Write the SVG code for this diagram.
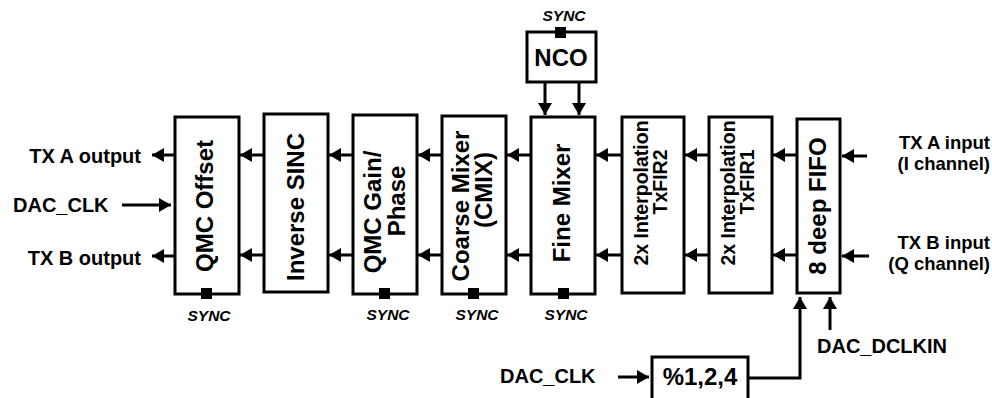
<svg xmlns="http://www.w3.org/2000/svg" width="992" height="398" viewBox="0 0 992 398">
<defs>
<marker id="ah" markerUnits="userSpaceOnUse" markerWidth="13" markerHeight="15" refX="12" refY="7" orient="auto">
<path d="M0,0 L12,7 L0,14 z" fill="#000"/>
</marker>
<style>
.box{fill:#fff;stroke:#000;stroke-width:3}
.sq{fill:#000}
.lbl{font-family:"Liberation Sans",Arial,sans-serif;font-weight:bold;font-size:24px;fill:#000}
.fir{font-size:19.5px}
.ext{font-family:"Liberation Sans",Arial,sans-serif;font-weight:bold;font-size:20px;fill:#000}
.in{font-size:18.5px}
.sync{font-family:"Liberation Sans",Arial,sans-serif;font-weight:bold;font-style:italic;font-size:15.5px;fill:#000;text-anchor:middle}
.c{stroke:#000;stroke-width:3;fill:none;marker-end:url(#ah)}
</style>
</defs>
<rect width="992" height="398" fill="#fff"/>

<g id="connectors">
<line class="c" x1="175" y1="155" x2="152" y2="155"/>
<line class="c" x1="175" y1="256" x2="152" y2="256"/>
<line class="c" x1="122" y1="205" x2="171" y2="205"/>
<line class="c" x1="264" y1="155" x2="240" y2="155"/>
<line class="c" x1="264" y1="255" x2="240" y2="255"/>
<line class="c" x1="353" y1="155" x2="329" y2="155"/>
<line class="c" x1="353" y1="255" x2="329" y2="255"/>
<line class="c" x1="442" y1="155" x2="418" y2="155"/>
<line class="c" x1="442" y1="255" x2="418" y2="255"/>
<line class="c" x1="531" y1="155" x2="507" y2="155"/>
<line class="c" x1="531" y1="255" x2="507" y2="255"/>
<line class="c" x1="622" y1="155" x2="596" y2="155"/>
<line class="c" x1="622" y1="255" x2="596" y2="255"/>
<line class="c" x1="709" y1="155" x2="685" y2="155"/>
<line class="c" x1="709" y1="255" x2="685" y2="255"/>
<line class="c" x1="797" y1="155" x2="773" y2="155"/>
<line class="c" x1="797" y1="255" x2="773" y2="255"/>
<line class="c" x1="867" y1="156" x2="842" y2="156"/>
<line class="c" x1="869" y1="256" x2="842" y2="256"/>
<line class="c" x1="545" y1="82" x2="545" y2="115"/>
<line class="c" x1="579" y1="82" x2="579" y2="115"/>
<line class="c" x1="618" y1="377" x2="649" y2="377"/>
<polyline class="c" points="748,378 800,378 800,297"/>
<line class="c" x1="830" y1="330" x2="830" y2="297"/>
</g>

<g id="qmc-offset">
<rect class="box" x="175" y="117" width="64" height="177"/>
<rect class="sq" x="201" y="288" width="11" height="11"/>
<text class="lbl" text-anchor="middle" transform="translate(213,206) rotate(-90)">QMC Offset</text>
<text class="sync" x="209" y="321">SYNC</text>
</g>

<g id="inverse-sinc">
<rect class="box" x="264" y="114" width="64" height="178"/>
<text class="lbl" text-anchor="middle" transform="translate(304,207) rotate(-90)">Inverse SINC</text>
</g>

<g id="qmc-gain">
<rect class="box" x="353" y="115" width="64" height="179"/>
<rect class="sq" x="379" y="288" width="11" height="11"/>
<text class="lbl" text-anchor="middle" transform="translate(381,212) rotate(-90)">QMC Gain/</text>
<text class="lbl" text-anchor="middle" transform="translate(405,201) rotate(-90)">Phase</text>
<text class="sync" x="388" y="320">SYNC</text>
</g>

<g id="coarse-mixer">
<rect class="box" x="442" y="116" width="64" height="178"/>
<rect class="sq" x="468" y="288" width="11" height="11"/>
<text class="lbl" text-anchor="middle" transform="translate(469,206) rotate(-90)">Coarse Mixer</text>
<text class="lbl" text-anchor="middle" transform="translate(492,190) rotate(-90)">(CMIX)</text>
<text class="sync" x="477" y="320">SYNC</text>
</g>

<g id="fine-mixer">
<rect class="box" x="531" y="117" width="64" height="177"/>
<rect class="sq" x="558" y="288" width="11" height="11"/>
<text class="lbl" text-anchor="middle" transform="translate(570,203) rotate(-90)">Fine Mixer</text>
<text class="sync" x="566" y="320">SYNC</text>
</g>

<g id="nco">
<rect class="box" x="527" y="32" width="69" height="50"/>
<rect class="sq" x="555" y="27" width="11" height="11"/>
<text class="lbl" text-anchor="middle" x="561" y="66">NCO</text>
<text class="sync" x="564" y="21">SYNC</text>
</g>

<g id="txfir2">
<rect class="box" x="622" y="117" width="62" height="176"/>
<text class="lbl fir" text-anchor="middle" transform="translate(648,193) rotate(-90)">2x Interpolation</text>
<text class="lbl fir" text-anchor="middle" transform="translate(667,182) rotate(-90)">TxFIR2</text>
</g>

<g id="txfir1">
<rect class="box" x="709" y="117" width="63" height="176"/>
<text class="lbl fir" text-anchor="middle" transform="translate(735,193) rotate(-90)">2x Interpolation</text>
<text class="lbl fir" text-anchor="middle" transform="translate(754,182) rotate(-90)">TxFIR1</text>
</g>

<g id="fifo">
<rect class="box" x="797" y="119" width="43" height="174"/>
<text class="lbl" text-anchor="middle" transform="translate(826,206) rotate(-90)">8 deep FIFO</text>
</g>

<g id="divider">
<rect class="box" x="652" y="357" width="96" height="50"/>
<text class="lbl" text-anchor="middle" x="700" y="385">%1,2,4</text>
</g>

<g id="labels">
<text class="ext" text-anchor="end" x="141" y="163">TX A output</text>
<text class="ext" x="13" y="212">DAC_CLK</text>
<text class="ext" text-anchor="end" x="141" y="265">TX B output</text>
<text class="ext in" text-anchor="end" x="990" y="149">TX A input</text>
<text class="ext in" text-anchor="end" x="990" y="170">(I channel)</text>
<text class="ext in" text-anchor="end" x="990" y="249">TX B input</text>
<text class="ext in" text-anchor="end" x="990" y="270">(Q channel)</text>
<text class="ext" x="500" y="383">DAC_CLK</text>
<text class="ext" x="817" y="353">DAC_DCLKIN</text>
</g>
</svg>
